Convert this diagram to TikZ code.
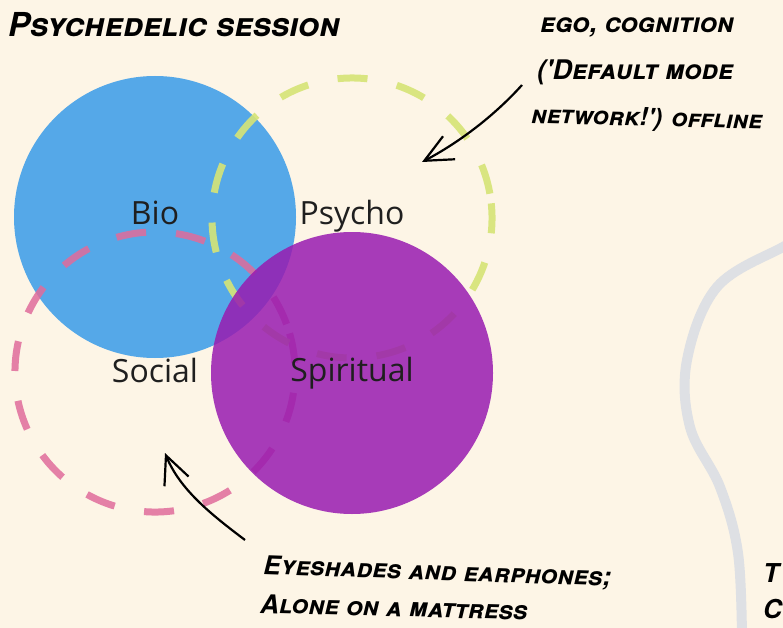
\documentclass[tikz,border=0pt]{standalone}
\usepackage{fontspec}
\setmainfont{Open Sans}
\newfontfamily\handfont{TeX Gyre Heros}
\usetikzlibrary{arrows.meta}
\definecolor{bgc}{RGB}{253,245,230}
\definecolor{bioc}{RGB}{85,168,232}
\definecolor{spic}{RGB}{153,27,176}
\definecolor{psyc}{RGB}{214,228,118}
\definecolor{socc}{RGB}{224,108,155}
\definecolor{greyc}{RGB}{222,224,228}
\tikzset{
  solidcirc/.style={circle, minimum size=282pt, inner sep=0pt, outer sep=0pt},
  dashcirc/.style={circle, minimum size=280pt, inner sep=0pt, outer sep=0pt, line width=7pt, dash pattern=on 30pt off 30pt},
  lbl/.style={font=\fontsize{32}{38}\selectfont, text=black!88, inner sep=0pt},
  hand/.style={font=\handfont\bfseries\itshape\scshape\fontsize{#1}{#1}\selectfont, inner sep=0pt, anchor=base west},
  note/.style={line width=2.2pt, -{Straight Barb[length=28pt,width=26pt,line width=2.2pt]}},
}
\begin{document}
\begin{tikzpicture}[x=1pt,y=-1pt]
\fill[bgc] (0,0) rectangle (783,628);
\useasboundingbox (0,0) rectangle (783,628);
\clip (0,0) rectangle (783,628);
% grey curve on the right
\draw[greyc, line width=10pt] plot[smooth, tension=0.6] coordinates {(815,232) (783,247) (717,287) (687,360) (690,427) (720,487) (738,553) (742,640)};
% circles
\node[solidcirc, fill=bioc] (bio) at (155,217) {};
\node[dashcirc, draw=socc, draw opacity=0.85, rotate=20] (soc) at (155,372) {};
\node[dashcirc, draw=psyc, draw opacity=0.9, rotate=10] (psy) at (352,218) {};
\node[solidcirc, fill=spic, fill opacity=0.85] (spi) at (352,373) {};
% labels
\node[lbl] (lbio) at (155,213) {Bio};
\node[lbl] (lpsy) at (352,216) {Psycho};
\node[lbl] (lsoc) at (155,370) {Social};
\node[lbl] (lspi) at (352,373) {Spiritual};
% handwritten notes
\node[hand=33] (title) at (8,37) {Psychedelic session};
\node[hand=27] (n1a) at (540,33) {ego, cognition};
\node[hand=27] (n1b) at (537,80) {('Default mode};
\node[hand=25, rotate=-1.5] (n1c) at (531,123) {network!') offline};
\node[hand=26, rotate=-2] (n2a) at (263,574) {Eyeshades and earphones;};
\node[hand=26, rotate=-1.5] (n2b) at (260,613) {Alone on a mattress};
\node[hand=26] (n3a) at (763,582) {T};
\node[hand=26] (n3b) at (763,618) {C};
% arrows
\coordinate (a1s) at (522,85);
\coordinate (a1e) at (422,162);
\draw[note] (a1s) .. controls (495,115) and (460,142) .. (a1e);
\coordinate (a2s) at (245,540);
\coordinate (a2e) at (165,453);
\draw[note] (a2s) .. controls (212,515) and (180,490) .. (a2e);
\end{tikzpicture}
\end{document}
